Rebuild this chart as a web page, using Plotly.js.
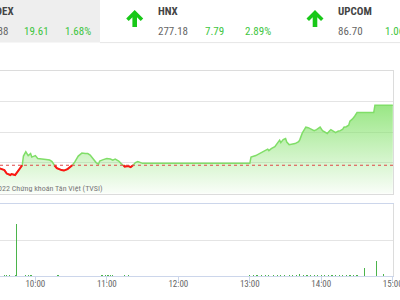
<!DOCTYPE html>
<html>
<head>
<meta charset="utf-8">
<script src="https://cdn.plot.ly/plotly-3.0.1.min.js"></script>
<style>html,body{margin:0;padding:0;background:#fff;}#chart{width:400px;height:300px;}</style>
</head>
<body>
<div id="chart"></div>
<script>
// ---------- DATA ----------
const day = '2022-11-18';
const prevClose = 1167.27;

const priceTimes = ['09:15','09:30','09:34','09:36','09:39','09:40','09:43','09:45','09:47','09:49','09:50','09:52','09:54','09:56','09:57',
  '10:00','10:02','10:06','10:09','10:12','10:14','10:16','10:18','10:22','10:24','10:27','10:29','10:31','10:33','10:36','10:38','10:39',
  '10:42','10:44','10:46','10:48','10:51','10:53','10:54','10:57','11:00','11:03','11:05','11:07','11:10','11:12','11:14','11:15','11:18',
  '11:20','11:22','11:24','11:26','11:29','11:30',
  '13:00','13:01','13:05','13:08','13:11','13:13','13:15','13:16','13:18','13:21','13:23','13:25','13:26','13:28','13:30','13:31','13:33',
  '13:36','13:38','13:41','13:42','13:44','13:46','13:47','13:49','13:52','13:54','13:56','13:58','13:59','14:01','14:03','14:05','14:07',
  '14:08','14:10','14:12','14:14','14:16','14:18','14:19','14:21','14:23','14:24','14:26','14:28','14:29','14:30','14:44','14:45','15:00'];
const priceValues = [1166.90,1166.26,1165.70,1164.56,1164.08,1164.40,1164.08,1165.22,1166.19,1167.27,1170.26,1171.67,1170.43,1171.08,1169.94,
  1170.43,1169.45,1169.12,1169.12,1168.96,1168.47,1167.27,1166.36,1165.70,1165.54,1166.03,1166.68,1167.27,1168.31,1170.26,1170.92,1171.24,
  1171.08,1171.08,1170.59,1169.61,1168.15,1167.66,1168.64,1169.12,1169.45,1169.29,1168.96,1169.29,1168.64,1167.82,1167.27,1166.84,1167.01,
  1166.68,1167.27,1168.15,1168.47,1168.15,1167.89,
  1167.89,1169.94,1170.43,1171.08,1171.57,1172.06,1172.55,1172.06,1172.71,1173.36,1174.50,1175.48,1174.66,1175.64,1175.97,1174.83,1174.01,
  1174.17,1174.34,1174.99,1175.64,1177.76,1179.22,1179.71,1179.55,1179.06,1178.57,1178.90,1179.61,1179.71,1178.57,1178.18,1177.66,1178.57,
  1178.90,1178.41,1177.92,1178.41,1178.57,1179.06,1179.71,1179.87,1180.36,1181.67,1182.32,1183.29,1184.11,1184.50,1184.50,1186.88,1186.88];

const volTimes = ['09:34','09:36','09:38','09:43','09:44','09:52','09:54','09:56','09:57','10:19','10:56','10:59','11:01','11:03','11:05','11:15','11:18',
  '13:00','13:03','13:06','13:10','13:13','13:16','13:20','13:23','13:26','13:29','13:33','13:36','13:39','13:42','13:45','13:48','13:51',
  '13:54','13:57','14:00','14:03','14:06','14:09','14:12','14:15','14:18','14:21','14:24','14:27','14:30','14:36','14:46','14:52'];
const volValues = [0.03,0.03,0.02,0.03,1.44,0.04,0.03,0.03,0.04,0.03,0.03,0.03,0.04,0.03,0.03,0.02,0.03,
  0.03,0.02,0.03,0.02,0.03,0.02,0.03,0.02,0.03,0.03,0.02,0.03,0.03,0.05,0.03,0.02,0.04,
  0.03,0.03,0.04,0.03,0.04,0.02,0.03,0.03,0.04,0.03,0.04,0.03,0.02,0.23,0.42,0.06];

const header = [
  {name:'VN-INDEX', value:'1186.88', change:'19.61', pct:'1.68%'},
  {name:'HNX', value:'277.18', change:'7.79', pct:'2.89%'},
  {name:'UPCOM', value:'86.70', change:'1.06', pct:''}
];
const watermark = '© 2022 Chứng khoán Tân Việt (TVSI)';

// ---------- LAYOUT HELPERS ----------
const W=400, H=300, L=0, R=7, T=71, B=24;
const plotW = W-L-R, plotH = H-T-B;
const px = x => (x-L)/plotW;
const py = y => (H-B-y)/plotH;
const FONT = '"Roboto Condensed","Liberation Sans Narrow","Arial Narrow",Roboto,sans-serif';
const GREEN_TXT = '#3ec53e';

const tx = priceTimes.map(t => day+' '+t);
const redY = priceValues.map(v => v <= prevClose ? v : null);

const traces = [
  {x:tx, y:priceValues, type:'scatter', mode:'lines', xaxis:'x', yaxis:'y',
   line:{color:'rgb(128,222,104)', width:1.5},
   fill:'tozeroy',
   fillgradient:{type:'vertical', start:1158.05, stop:1188,
     colorscale:[[0,'rgba(130,225,105,0.05)'],[1,'rgba(130,225,105,0.85)']]},
   hoverinfo:'skip'},
  {x:tx, y:redY, type:'scatter', mode:'lines', xaxis:'x', yaxis:'y', connectgaps:false,
   line:{color:'#ff1414', width:2}, hoverinfo:'skip'},
  {x:volTimes.map(t=>day+' '+t), y:volValues, type:'bar', xaxis:'x2', yaxis:'y2',
   width:60000, marker:{color:'rgb(75,180,75)', line:{width:0}}, hoverinfo:'skip'}
];

const xr = [day+' 09:30:20', day+' 15:00:10'];

const ann = [];
function txt(text, x, y, anchor, opts){
  ann.push(Object.assign({text:text, x:px(x), y:py(y), xref:'paper', yref:'paper',
    xanchor:anchor, yanchor:'middle', showarrow:false,
    font:{family:FONT, size:11, color:'#666'}}, opts||{}));
}
// header
txt('<b>'+header[0].name+'</b>', 15.5, 12, 'right', {font:{family:FONT,size:11,color:'#444'}});
txt(header[0].value, 9.5, 31, 'right');
txt(header[0].change, 22, 31, 'left', {font:{family:FONT,size:11,color:GREEN_TXT}});
txt(header[0].pct, 92.5, 31, 'right', {font:{family:FONT,size:11,color:GREEN_TXT}});
txt('<b>'+header[1].name+'</b>', 155.5, 12, 'left', {font:{family:FONT,size:11,color:'#444'}});
txt(header[1].value, 155.5, 31, 'left');
txt(header[1].change, 202.5, 31, 'left', {font:{family:FONT,size:11,color:GREEN_TXT}});
txt(header[1].pct, 272.5, 31, 'right', {font:{family:FONT,size:11,color:GREEN_TXT}});
txt('<b>'+header[2].name+'</b>', 335.5, 12, 'left', {font:{family:FONT,size:11,color:'#444'}});
txt(header[2].value, 335.5, 31, 'left');
txt(header[2].change, 382.5, 31, 'left', {font:{family:FONT,size:11,color:GREEN_TXT}});
// watermark
txt(watermark, 105, 188.5, 'right', {font:{family:FONT,size:8,color:'#777'}});

const arrowPath = 'M0,8.5 L8.5,0 L6,-2.5 L2.3,1.2 L2.3,-8.5 L-2.3,-8.5 L-2.3,1.2 L-6,-2.5 L-8.5,0 Z';
const shapes = [
  {type:'rect', xref:'paper', yref:'paper', x0:px(-2), x1:px(100), y0:py(42.6), y1:py(-2), fillcolor:'#eeeeee', line:{width:0}, layer:'below'},
  {type:'line', xref:'paper', yref:'paper', x0:px(100), x1:px(402), y0:py(42.6), y1:py(42.6), line:{color:'#e6e6e6', width:1}},
  {type:'line', xref:'paper', yref:'y', x0:0, x1:1, y0:prevClose, y1:prevClose, line:{color:'#e04848', width:1.2, dash:'dot'}, layer:'above'}
];
[134.7, 315].forEach(x => shapes.push({type:'path', xref:'paper', yref:'paper', xsizemode:'pixel', ysizemode:'pixel',
  xanchor:px(x), yanchor:py(18.5), path:arrowPath, fillcolor:'#19c819', line:{width:0}}));

const layout = {
  width:W, height:H, margin:{l:L, r:R, t:T, b:B, pad:0},
  paper_bgcolor:'#ffffff', plot_bgcolor:'rgba(0,0,0,0)',
  showlegend:false, bargap:0,
  font:{family:FONT, size:9, color:'#666'},
  xaxis:{type:'date', range:xr, anchor:'y', domain:[0,1], showticklabels:false, ticks:'', showgrid:false,
    showline:true, mirror:true, linecolor:'#dcdcdc', linewidth:1, zeroline:false, fixedrange:true},
  yaxis:{range:[1158.05,1198.05], tick0:1158.05, dtick:10, domain:[py(193.5),1], showticklabels:false, ticks:'',
    gridcolor:'#e4e4e4', gridwidth:1, zeroline:false, showline:true, side:'right', linecolor:'#dcdcdc', anchor:'x'},
  xaxis2:{type:'date', range:xr, anchor:'y2', domain:[0,1], tickformat:'%H:%M', dtick:3600000, tick0:day+' 10:00',
    ticks:'outside', ticklen:6, tickcolor:'#ccd6eb', tickfont:{family:FONT, size:9, color:'#666'}, ticklabelstandoff:-7,
    ticklabeloverflow:'allow',
    showgrid:false, showline:true, mirror:true, linecolor:'#ccd6eb', zeroline:false},
  yaxis2:{range:[0,2], dtick:1, domain:[0,py(204.3)], showticklabels:false, ticks:'', gridcolor:'#e4e4e4',
    zeroline:false, showline:true, side:'right', linecolor:'#dcdcdc', anchor:'x2'},
  annotations:ann, shapes:shapes
};

Plotly.newPlot('chart', traces, layout, {displayModeBar:false, staticPlot:true});
</script>
</body>
</html>
